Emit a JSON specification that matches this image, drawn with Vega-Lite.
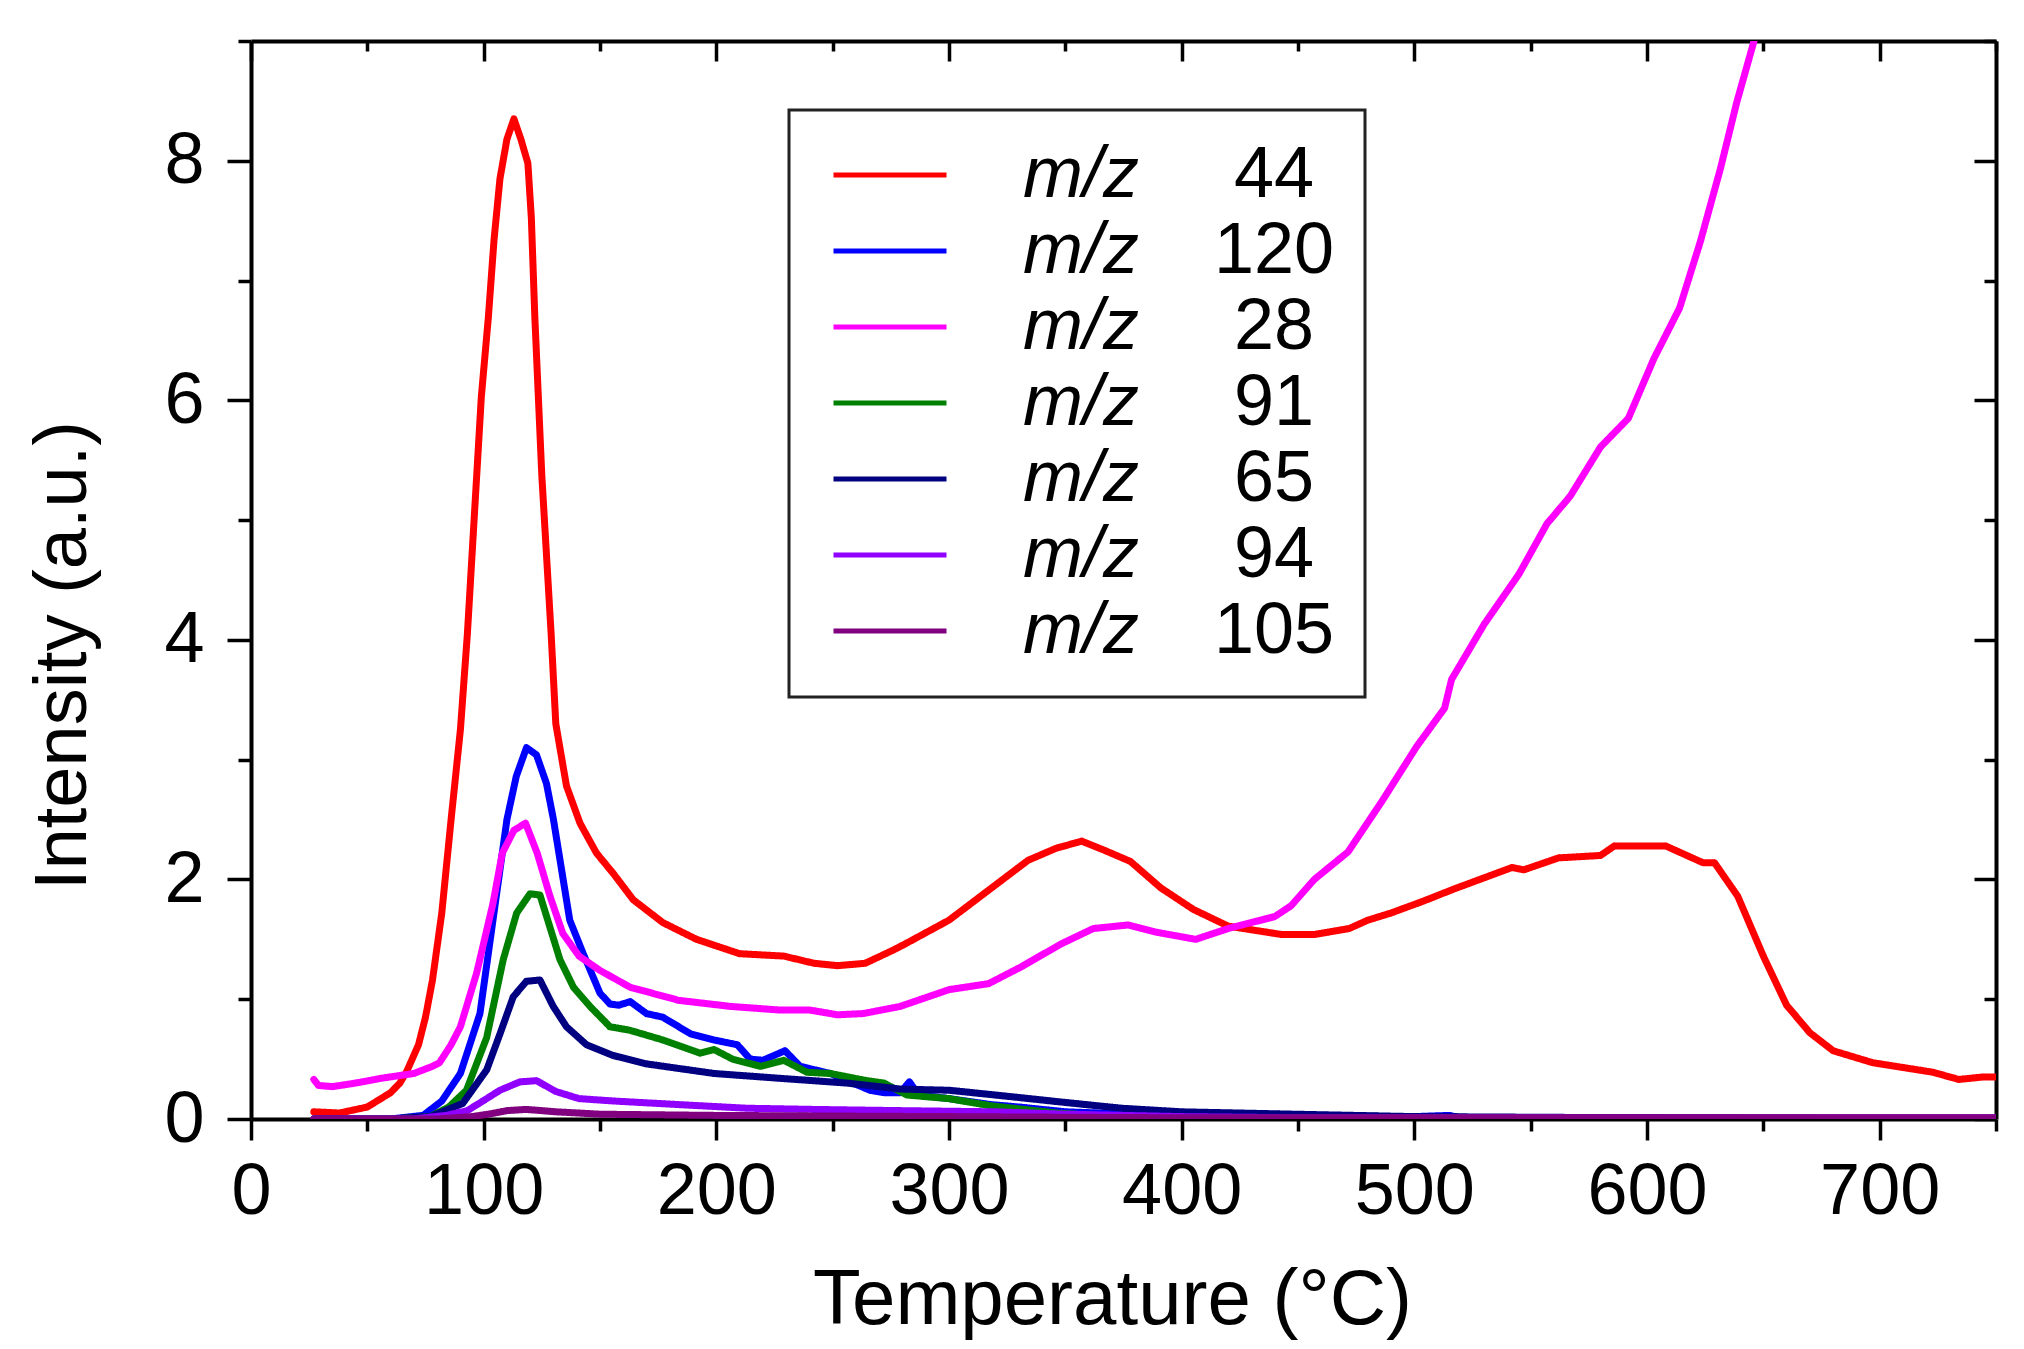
{
  "$schema": "https://vega.github.io/schema/vega-lite/v6.json",
  "width": 1745,
  "height": 1078,
  "autosize": {"type": "none"},
  "padding": {"left": 251, "top": 41, "right": 28, "bottom": 230},
  "background": "white",
  "datasets": {
    "ms": [
      {"s": "44", "t": 27, "i": 0.06}, {"s": "44", "t": 38, "i": 0.05}, {"s": "44", "t": 50, "i": 0.1}, {"s": "44", "t": 60, "i": 0.22},
      {"s": "44", "t": 64, "i": 0.3}, {"s": "44", "t": 67, "i": 0.4}, {"s": "44", "t": 72, "i": 0.62}, {"s": "44", "t": 75, "i": 0.85},
      {"s": "44", "t": 78, "i": 1.16}, {"s": "44", "t": 82, "i": 1.72}, {"s": "44", "t": 86, "i": 2.5}, {"s": "44", "t": 90, "i": 3.25},
      {"s": "44", "t": 93, "i": 4.05}, {"s": "44", "t": 95, "i": 4.71}, {"s": "44", "t": 97, "i": 5.37}, {"s": "44", "t": 99, "i": 6.03},
      {"s": "44", "t": 102, "i": 6.69}, {"s": "44", "t": 104.5, "i": 7.35}, {"s": "44", "t": 107, "i": 7.85}, {"s": "44", "t": 110, "i": 8.18},
      {"s": "44", "t": 113, "i": 8.35}, {"s": "44", "t": 116, "i": 8.18}, {"s": "44", "t": 119, "i": 7.98}, {"s": "44", "t": 120.5, "i": 7.52},
      {"s": "44", "t": 122, "i": 6.69}, {"s": "44", "t": 123.5, "i": 6.03}, {"s": "44", "t": 125, "i": 5.37}, {"s": "44", "t": 127, "i": 4.71},
      {"s": "44", "t": 129, "i": 4.05}, {"s": "44", "t": 131, "i": 3.3}, {"s": "44", "t": 135.6, "i": 2.78}, {"s": "44", "t": 141.4, "i": 2.47},
      {"s": "44", "t": 148.5, "i": 2.22}, {"s": "44", "t": 155.7, "i": 2.05}, {"s": "44", "t": 164.3, "i": 1.83}, {"s": "44", "t": 177, "i": 1.64},
      {"s": "44", "t": 191.5, "i": 1.5}, {"s": "44", "t": 210, "i": 1.38}, {"s": "44", "t": 229, "i": 1.36}, {"s": "44", "t": 242, "i": 1.3},
      {"s": "44", "t": 252, "i": 1.28}, {"s": "44", "t": 264, "i": 1.3}, {"s": "44", "t": 276, "i": 1.41}, {"s": "44", "t": 281, "i": 1.46},
      {"s": "44", "t": 300, "i": 1.66}, {"s": "44", "t": 317, "i": 1.91}, {"s": "44", "t": 334, "i": 2.16}, {"s": "44", "t": 346, "i": 2.26},
      {"s": "44", "t": 357, "i": 2.32}, {"s": "44", "t": 366, "i": 2.25}, {"s": "44", "t": 378, "i": 2.15}, {"s": "44", "t": 391, "i": 1.93},
      {"s": "44", "t": 405, "i": 1.75}, {"s": "44", "t": 420, "i": 1.61}, {"s": "44", "t": 443, "i": 1.54}, {"s": "44", "t": 457, "i": 1.54},
      {"s": "44", "t": 472, "i": 1.59}, {"s": "44", "t": 480, "i": 1.66}, {"s": "44", "t": 490, "i": 1.72}, {"s": "44", "t": 504, "i": 1.82},
      {"s": "44", "t": 517, "i": 1.92}, {"s": "44", "t": 542, "i": 2.1}, {"s": "44", "t": 547, "i": 2.08}, {"s": "44", "t": 562, "i": 2.18},
      {"s": "44", "t": 580, "i": 2.2}, {"s": "44", "t": 586, "i": 2.28}, {"s": "44", "t": 608, "i": 2.28}, {"s": "44", "t": 624, "i": 2.14},
      {"s": "44", "t": 629, "i": 2.14}, {"s": "44", "t": 639, "i": 1.86}, {"s": "44", "t": 650, "i": 1.36}, {"s": "44", "t": 660, "i": 0.95},
      {"s": "44", "t": 670, "i": 0.72}, {"s": "44", "t": 680, "i": 0.57}, {"s": "44", "t": 697, "i": 0.47}, {"s": "44", "t": 710, "i": 0.43},
      {"s": "44", "t": 723, "i": 0.39}, {"s": "44", "t": 734, "i": 0.33}, {"s": "44", "t": 744, "i": 0.35}, {"s": "44", "t": 750, "i": 0.35},

      {"s": "120", "t": 27, "i": 0}, {"s": "120", "t": 60, "i": 0}, {"s": "120", "t": 74, "i": 0.03}, {"s": "120", "t": 82, "i": 0.15},
      {"s": "120", "t": 90, "i": 0.38}, {"s": "120", "t": 98.4, "i": 0.88}, {"s": "120", "t": 104, "i": 1.66}, {"s": "120", "t": 110, "i": 2.5},
      {"s": "120", "t": 114, "i": 2.86}, {"s": "120", "t": 118.4, "i": 3.1}, {"s": "120", "t": 122.7, "i": 3.04}, {"s": "120", "t": 127, "i": 2.8},
      {"s": "120", "t": 130, "i": 2.5}, {"s": "120", "t": 133.5, "i": 2.08}, {"s": "120", "t": 137, "i": 1.66}, {"s": "120", "t": 142.8, "i": 1.38},
      {"s": "120", "t": 150, "i": 1.05}, {"s": "120", "t": 154.3, "i": 0.96}, {"s": "120", "t": 158, "i": 0.95}, {"s": "120", "t": 163, "i": 0.98},
      {"s": "120", "t": 170, "i": 0.88}, {"s": "120", "t": 177, "i": 0.85}, {"s": "120", "t": 189, "i": 0.71}, {"s": "120", "t": 199, "i": 0.66},
      {"s": "120", "t": 209, "i": 0.62}, {"s": "120", "t": 214.5, "i": 0.5}, {"s": "120", "t": 220, "i": 0.49}, {"s": "120", "t": 229.5, "i": 0.57},
      {"s": "120", "t": 236, "i": 0.44}, {"s": "120", "t": 249, "i": 0.38}, {"s": "120", "t": 266, "i": 0.24}, {"s": "120", "t": 272, "i": 0.22},
      {"s": "120", "t": 279, "i": 0.22}, {"s": "120", "t": 283, "i": 0.31}, {"s": "120", "t": 287, "i": 0.2}, {"s": "120", "t": 300, "i": 0.17},
      {"s": "120", "t": 318, "i": 0.12}, {"s": "120", "t": 330, "i": 0.1}, {"s": "120", "t": 350, "i": 0.06}, {"s": "120", "t": 380, "i": 0.04},
      {"s": "120", "t": 420, "i": 0.03}, {"s": "120", "t": 500, "i": 0.02}, {"s": "120", "t": 515, "i": 0.03}, {"s": "120", "t": 520, "i": 0.01},
      {"s": "120", "t": 600, "i": 0.01}, {"s": "120", "t": 750, "i": 0},

      {"s": "28", "t": 27, "i": 0.33}, {"s": "28", "t": 29, "i": 0.28}, {"s": "28", "t": 35, "i": 0.27}, {"s": "28", "t": 45, "i": 0.3},
      {"s": "28", "t": 56, "i": 0.34}, {"s": "28", "t": 70, "i": 0.38}, {"s": "28", "t": 78, "i": 0.44}, {"s": "28", "t": 81, "i": 0.47},
      {"s": "28", "t": 86, "i": 0.62}, {"s": "28", "t": 90, "i": 0.77}, {"s": "28", "t": 97, "i": 1.22}, {"s": "28", "t": 104, "i": 1.8},
      {"s": "28", "t": 108, "i": 2.22}, {"s": "28", "t": 113, "i": 2.41}, {"s": "28", "t": 118, "i": 2.47}, {"s": "28", "t": 123, "i": 2.22},
      {"s": "28", "t": 128.5, "i": 1.86}, {"s": "28", "t": 134, "i": 1.55}, {"s": "28", "t": 141, "i": 1.36}, {"s": "28", "t": 150, "i": 1.24},
      {"s": "28", "t": 163, "i": 1.1}, {"s": "28", "t": 184, "i": 0.99}, {"s": "28", "t": 206, "i": 0.94}, {"s": "28", "t": 227, "i": 0.91},
      {"s": "28", "t": 240, "i": 0.91}, {"s": "28", "t": 252, "i": 0.87}, {"s": "28", "t": 263, "i": 0.88}, {"s": "28", "t": 279, "i": 0.94},
      {"s": "28", "t": 300, "i": 1.08}, {"s": "28", "t": 317, "i": 1.13}, {"s": "28", "t": 331, "i": 1.27}, {"s": "28", "t": 348, "i": 1.46},
      {"s": "28", "t": 362, "i": 1.59}, {"s": "28", "t": 377, "i": 1.62}, {"s": "28", "t": 389, "i": 1.56}, {"s": "28", "t": 406, "i": 1.5},
      {"s": "28", "t": 420, "i": 1.59}, {"s": "28", "t": 440, "i": 1.69}, {"s": "28", "t": 447, "i": 1.78}, {"s": "28", "t": 457, "i": 2.0},
      {"s": "28", "t": 471.5, "i": 2.23}, {"s": "28", "t": 486, "i": 2.65}, {"s": "28", "t": 501, "i": 3.11}, {"s": "28", "t": 513, "i": 3.43},
      {"s": "28", "t": 516, "i": 3.67}, {"s": "28", "t": 530, "i": 4.13}, {"s": "28", "t": 545, "i": 4.55}, {"s": "28", "t": 557, "i": 4.97},
      {"s": "28", "t": 567, "i": 5.2}, {"s": "28", "t": 580, "i": 5.61}, {"s": "28", "t": 592, "i": 5.85}, {"s": "28", "t": 603, "i": 6.35},
      {"s": "28", "t": 614, "i": 6.77}, {"s": "28", "t": 623, "i": 7.33}, {"s": "28", "t": 631.5, "i": 7.93}, {"s": "28", "t": 638.6, "i": 8.49},
      {"s": "28", "t": 646, "i": 9.0}, {"s": "28", "t": 652, "i": 9.5},

      {"s": "91", "t": 27, "i": 0}, {"s": "91", "t": 60, "i": 0}, {"s": "91", "t": 77, "i": 0.02}, {"s": "91", "t": 85, "i": 0.1},
      {"s": "91", "t": 92.6, "i": 0.24}, {"s": "91", "t": 101.3, "i": 0.68}, {"s": "91", "t": 108.4, "i": 1.33}, {"s": "91", "t": 114.2, "i": 1.72},
      {"s": "91", "t": 119.9, "i": 1.88}, {"s": "91", "t": 124.2, "i": 1.87}, {"s": "91", "t": 128.5, "i": 1.6}, {"s": "91", "t": 132.8, "i": 1.33},
      {"s": "91", "t": 138.6, "i": 1.1}, {"s": "91", "t": 145.7, "i": 0.94}, {"s": "91", "t": 154.3, "i": 0.77}, {"s": "91", "t": 163, "i": 0.74},
      {"s": "91", "t": 177, "i": 0.66}, {"s": "91", "t": 193, "i": 0.55}, {"s": "91", "t": 199, "i": 0.58}, {"s": "91", "t": 207, "i": 0.5},
      {"s": "91", "t": 219, "i": 0.44}, {"s": "91", "t": 229, "i": 0.49}, {"s": "91", "t": 239, "i": 0.39}, {"s": "91", "t": 249, "i": 0.38},
      {"s": "91", "t": 264.7, "i": 0.32}, {"s": "91", "t": 272, "i": 0.3}, {"s": "91", "t": 282, "i": 0.2}, {"s": "91", "t": 300, "i": 0.17},
      {"s": "91", "t": 318, "i": 0.11}, {"s": "91", "t": 346, "i": 0.05}, {"s": "91", "t": 370, "i": 0.02}, {"s": "91", "t": 400, "i": 0.01},
      {"s": "91", "t": 750, "i": 0},

      {"s": "65", "t": 27, "i": 0}, {"s": "65", "t": 60, "i": 0}, {"s": "65", "t": 77, "i": 0.02}, {"s": "65", "t": 91, "i": 0.13},
      {"s": "65", "t": 101.3, "i": 0.41}, {"s": "65", "t": 107, "i": 0.71}, {"s": "65", "t": 112.7, "i": 1.02}, {"s": "65", "t": 118.4, "i": 1.15},
      {"s": "65", "t": 124.2, "i": 1.16}, {"s": "65", "t": 129.9, "i": 0.94}, {"s": "65", "t": 135.6, "i": 0.77}, {"s": "65", "t": 144.2, "i": 0.62},
      {"s": "65", "t": 155.7, "i": 0.53}, {"s": "65", "t": 170, "i": 0.46}, {"s": "65", "t": 199, "i": 0.38}, {"s": "65", "t": 227, "i": 0.34},
      {"s": "65", "t": 256, "i": 0.3}, {"s": "65", "t": 279, "i": 0.25}, {"s": "65", "t": 300, "i": 0.24}, {"s": "65", "t": 320, "i": 0.2},
      {"s": "65", "t": 349, "i": 0.14}, {"s": "65", "t": 374, "i": 0.09}, {"s": "65", "t": 400, "i": 0.06}, {"s": "65", "t": 449, "i": 0.04},
      {"s": "65", "t": 500, "i": 0.02}, {"s": "65", "t": 600, "i": 0.01}, {"s": "65", "t": 750, "i": 0},

      {"s": "94", "t": 27, "i": 0}, {"s": "94", "t": 70, "i": 0}, {"s": "94", "t": 84, "i": 0.03}, {"s": "94", "t": 93, "i": 0.07},
      {"s": "94", "t": 98, "i": 0.13}, {"s": "94", "t": 107, "i": 0.24}, {"s": "94", "t": 115.6, "i": 0.31}, {"s": "94", "t": 122.7, "i": 0.32},
      {"s": "94", "t": 131, "i": 0.23}, {"s": "94", "t": 141, "i": 0.17}, {"s": "94", "t": 156, "i": 0.15}, {"s": "94", "t": 184, "i": 0.12},
      {"s": "94", "t": 213, "i": 0.09}, {"s": "94", "t": 242, "i": 0.08}, {"s": "94", "t": 279, "i": 0.07}, {"s": "94", "t": 320, "i": 0.06},
      {"s": "94", "t": 350, "i": 0.04}, {"s": "94", "t": 400, "i": 0.02}, {"s": "94", "t": 450, "i": 0.01}, {"s": "94", "t": 750, "i": 0.01},

      {"s": "105", "t": 27, "i": 0}, {"s": "105", "t": 80, "i": 0}, {"s": "105", "t": 95, "i": 0.02}, {"s": "105", "t": 102, "i": 0.04},
      {"s": "105", "t": 110, "i": 0.07}, {"s": "105", "t": 118, "i": 0.08}, {"s": "105", "t": 125, "i": 0.07}, {"s": "105", "t": 131, "i": 0.06},
      {"s": "105", "t": 150, "i": 0.04}, {"s": "105", "t": 200, "i": 0.03}, {"s": "105", "t": 300, "i": 0.02}, {"s": "105", "t": 400, "i": 0.01},
      {"s": "105", "t": 750, "i": 0.01}
    ]
  },
  "layer": [
    {
      "data": {"name": "ms"},
      "mark": {"type": "line", "strokeWidth": 7, "clip": true, "strokeJoin": "round", "strokeCap": "round"},
      "encoding": {
        "x": {
          "field": "t",
          "type": "quantitative",
          "scale": {"domain": [0, 750], "nice": false, "zero": false},
          "axis": {
            "orient": "bottom",
            "values": [0, 50, 100, 150, 200, 250, 300, 350, 400, 450, 500, 550, 600, 650, 700, 750],
            "labelExpr": "datum.value % 100 === 0 ? datum.label : ''",
            "tickSize": {"condition": {"test": "datum.value % 100 === 0", "value": 21}, "value": 12},
            "labelFontSize": 72,
            "labelPadding": 16,
            "labelFlush": false,
            "labelOverlap": false,
            "title": "Temperature (°C)",
            "titleFontSize": 78,
            "titleX": 861,
            "titleY": 204,
            "titleAlign": "center",
            "titleBaseline": "alphabetic"
          }
        },
        "y": {
          "field": "i",
          "type": "quantitative",
          "scale": {"domain": [0, 9], "nice": false},
          "axis": {
            "orient": "left",
            "values": [0, 1, 2, 3, 4, 5, 6, 7, 8, 9],
            "labelExpr": "datum.value % 2 === 0 && datum.value < 9 ? datum.label : ''",
            "tickSize": {"condition": {"test": "datum.value % 2 === 0", "value": 24}, "value": 13},
            "labelFontSize": 72,
            "labelPadding": 23,
            "labelFlush": false,
            "labelOverlap": false,
            "title": "Intensity (a.u.)",
            "titleFontSize": 74,
            "titleAngle": -90,
            "titleX": -188,
            "titleY": 614,
            "titleAlign": "center",
            "titleBaseline": "middle"
          }
        },
        "color": {
          "field": "s",
          "type": "nominal",
          "sort": ["44", "120", "28", "91", "65", "94", "105"],
          "scale": {"range": ["#ff0000", "#0000ff", "#ff00ff", "#008000", "#000080", "#9000ff", "#800080"]},
          "legend": {
            "orient": "none",
            "legendX": 538,
            "legendY": 69,
            "direction": "vertical",
            "title": null,
            "symbolType": "stroke",
            "symbolSize": 12769,
            "symbolStrokeWidth": 5,
            "symbolOffset": 12,
            "clipHeight": 70,
            "rowPadding": 4,
            "padding": 30,
            "labelOffset": 74,
            "labelFontSize": 72,
            "labelFontStyle": "italic",
            "labelColor": "black",
            "labelLimit": 1000,
            "labelExpr": "'m/z'"
          }
        },
        "strokeDash": {
          "field": "s",
          "type": "nominal",
          "scale": {
            "domain": ["44", "120", "28", "91", "65", "94", "105"],
            "range": [[1, 0], [1, 0], [1, 0], [1, 0], [1, 0], [1, 0], [1, 0]]
          },
          "legend": {
            "orient": "none",
            "legendX": 538,
            "legendY": 69,
            "direction": "vertical",
            "title": null,
            "symbolSize": 1,
            "symbolStrokeWidth": 0,
            "symbolOpacity": 0,
            "clipHeight": 70,
            "rowPadding": 4,
            "padding": 30,
            "labelOffset": 383,
            "labelAlign": "center",
            "labelFontSize": 72,
            "labelColor": "black",
            "labelLimit": 1000,
            "strokeColor": "#222222"
          }
        }
      }
    },
    {
      "data": {"name": "ms"},
      "mark": {"type": "line", "opacity": 0, "strokeOpacity": 0},
      "encoding": {
        "x": {
          "field": "t",
          "type": "quantitative",
          "scale": {"domain": [0, 750], "nice": false, "zero": false},
          "axis": {
            "orient": "top",
            "values": [0, 50, 100, 150, 200, 250, 300, 350, 400, 450, 500, 550, 600, 650, 700, 750],
            "labels": false,
            "title": null,
            "tickSize": {"condition": {"test": "datum.value % 100 === 0", "value": -20}, "value": -10}
          }
        },
        "y": {
          "field": "i",
          "type": "quantitative",
          "scale": {"domain": [0, 9], "nice": false},
          "axis": {
            "orient": "right",
            "values": [0, 1, 2, 3, 4, 5, 6, 7, 8, 9],
            "labels": false,
            "title": null,
            "tickSize": {"condition": {"test": "datum.value % 2 === 0", "value": -22}, "value": -12}
          }
        }
      }
    }
  ],
  "resolve": {"axis": {"x": "independent", "y": "independent"}},
  "config": {
    "font": "Liberation Sans",
    "view": {"stroke": null},
    "axis": {
      "grid": false,
      "domainColor": "black",
      "domainWidth": 4,
      "tickColor": "black",
      "tickWidth": 3.5,
      "labelFont": "Liberation Sans",
      "titleFont": "Liberation Sans",
      "labelColor": "black",
      "titleColor": "black",
      "titleFontWeight": "normal"
    },
    "legend": {"labelFont": "Liberation Sans", "strokeWidth": 3}
  }
}
